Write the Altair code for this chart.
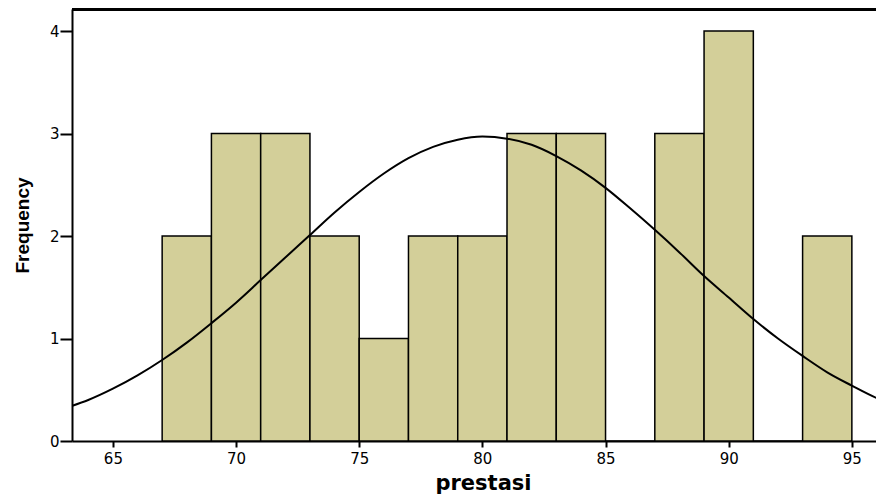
import altair as alt
import pandas as pd

# Histogram bins (width 2) and counts
bin_start = [67, 69, 71, 73, 75, 77, 79, 81, 83, 85, 87, 89, 91, 93]
bin_end = [69, 71, 73, 75, 77, 79, 81, 83, 85, 87, 89, 91, 93, 95]
counts = [2, 3, 3, 2, 1, 2, 2, 3, 3, 0, 3, 4, 0, 2]

# Normal curve heights
curve_x = [63.3, 64, 65, 66, 67, 68, 69, 70, 71, 72, 73, 74, 75, 76, 77, 78, 79,
           80, 81, 82, 83, 84, 85, 86, 87, 88, 89, 90, 91, 92, 93, 94, 95, 96, 96.3]
curve_y = [0.34, 0.40, 0.51, 0.64, 0.79, 0.96, 1.15, 1.35, 1.57, 1.79, 2.01, 2.23,
           2.43, 2.61, 2.76, 2.87, 2.94, 2.97, 2.95, 2.89, 2.78, 2.64, 2.47, 2.27,
           2.06, 1.84, 1.61, 1.40, 1.19, 1.00, 0.83, 0.67, 0.54, 0.42, 0.39]

x_ticks = [65, 70, 75, 80, 85, 90, 95]
y_ticks = [0, 1, 2, 3, 4]

bars_df = pd.DataFrame({"start": bin_start, "end": bin_end, "count": counts})
curve_df = pd.DataFrame({"x": curve_x, "y": curve_y})

W, H = 804, 432
xscale = alt.Scale(domain=[63.34, 95.98], nice=False, zero=False)
yscale = alt.Scale(domain=[0, 4.215], nice=False)

xaxis = alt.Axis(values=x_ticks, title="prestasi", grid=False, format="d",
                 domainColor="black", domainWidth=2, tickColor="black", tickWidth=2,
                 tickSize=6, labelFont="DejaVu Sans", labelFontSize=15, labelColor="black",
                 labelPadding=4, titleFont="DejaVu Sans", titleFontWeight="bold",
                 titleFontSize=21, titleColor="black", titleX=411, titleY=48,
                 titleBaseline="alphabetic", titleAlign="center")
yaxis = alt.Axis(values=y_ticks, title="Frequency", grid=False, format="d",
                 domainColor="black", domainWidth=2, tickColor="black", tickWidth=2,
                 tickSize=12, labelFont="DejaVu Sans", labelFontSize=15, labelColor="black",
                 labelPadding=1, titleFont="Liberation Sans", titleFontWeight="bold",
                 titleFontSize=19, titleColor="black", titleAngle=-90, titleX=-50,
                 titleY=216, titleBaseline="middle", titleAlign="center")

bars = alt.Chart(bars_df).mark_rect(fill="#d3cf99", stroke="black", strokeWidth=1.5,
                                    clip=True).encode(
    x=alt.X("start:Q", scale=xscale, axis=xaxis),
    x2="end:Q",
    y=alt.Y("count:Q", scale=yscale, axis=yaxis),
    y2=alt.datum(0),
)

curve = alt.Chart(curve_df).mark_line(color="black", strokeWidth=2,
                                      interpolate="monotone", clip=True).encode(
    x=alt.X("x:Q", scale=xscale),
    y=alt.Y("y:Q", scale=yscale),
)

top = alt.Chart(curve_df).mark_rule(color="black", strokeWidth=3).encode(
    x=alt.value(0), x2=alt.value(W), y=alt.value(0)
)

chart = alt.layer(bars, curve, top).properties(
    width=W, height=H,
    autosize=alt.AutoSizeParams(type="none"),
    padding={"left": 64, "top": 1, "right": 0, "bottom": 55},
).configure_view(fill="#efefef", stroke="transparent").configure(background="white")

chart.save("out.html", embed_options={"renderer": "svg", "actions": False})
